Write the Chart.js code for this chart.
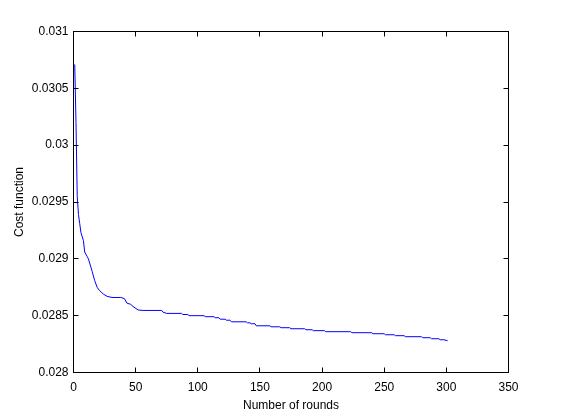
<!DOCTYPE html>
<html>
<head>
<meta charset="utf-8">
<script src="https://cdn.jsdelivr.net/npm/chart.js@4/dist/chart.umd.min.js"></script>
<style>
  html, body { margin: 0; padding: 0; background: #fff; }
  #wrap { width: 561px; height: 420px; }
</style>
</head>
<body>
<div id="wrap"><canvas id="myChart" width="561" height="420"></canvas></div>
<script>
// rounds / cost (breakpoints of the curve)
const rounds = [1, 2, 3, 4, 5, 6, 8, 9, 11, 12, 15, 17, 19, 21, 24, 27, 31, 38, 41, 43, 46, 48, 52, 56,
    71, 72, 75, 87, 88, 92, 93, 105, 106, 113, 114, 117, 118, 122, 123, 126, 127, 139, 140, 142, 143,
    146, 147, 158, 159, 166, 167, 174, 175, 186, 187, 192, 193, 202, 203, 223, 224, 240, 241, 250, 251,
    258, 259, 266, 267, 280, 281, 287, 288, 294, 295, 298, 301]
const cost = [0.03071, 0.03020, 0.02955, 0.02939, 0.02931, 0.02923, 0.02916, 0.02906, 0.02902, 0.02900,
    0.02889, 0.02881, 0.02875, 0.02872, 0.02869, 0.02867, 0.02866, 0.02866, 0.02865, 0.02861, 0.02860,
    0.02858, 0.02855, 0.028546, 0.028546, 0.028531, 0.02852, 0.02852, 0.02851, 0.02851, 0.02850, 0.02850,
    0.028491, 0.028491, 0.028482, 0.028482, 0.028469, 0.028469, 0.02846, 0.02846, 0.028446, 0.028446,
    0.028437, 0.028437, 0.028429, 0.028429, 0.028411, 0.028411, 0.028402, 0.028402, 0.028394, 0.028394,
    0.028385, 0.028385, 0.028376, 0.028376, 0.028368, 0.028368, 0.028359, 0.028359, 0.02835, 0.02835,
    0.028341, 0.028341, 0.028332, 0.028332, 0.028324, 0.028324, 0.028315, 0.028315, 0.028306, 0.028306,
    0.028297, 0.028297, 0.028288, 0.028288, 0.02828]

const xTicks = [0, 50, 100, 150, 200, 250, 300, 350]
const yTicks = [0.028, 0.0285, 0.029, 0.0295, 0.03, 0.0305, 0.031]
const xLabel = 'Number of rounds'
const yLabel = 'Cost function'

const fontFam = '"Liberation Sans", Arial, sans-serif'

// matlab style box + inward ticks on every side
const boxTicks = {
    id: 'boxTicks',
    afterDraw(chart) {
        const {ctx, chartArea: a, scales: {x, y}} = chart
        const tl = 5
        ctx.save()
        ctx.strokeStyle = '#000'
        ctx.lineWidth = 1
        ctx.beginPath()
        for (const v of xTicks) {
            const px = Math.round(x.getPixelForValue(v) - 0.5) + 0.5
            ctx.moveTo(px, a.bottom); ctx.lineTo(px, a.bottom - tl)
            ctx.moveTo(px, a.top); ctx.lineTo(px, a.top + tl)
        }
        for (const v of yTicks) {
            const py = Math.round(y.getPixelForValue(v) - 0.5) + 0.5
            ctx.moveTo(a.left, py); ctx.lineTo(a.left + tl, py)
            ctx.moveTo(a.right, py); ctx.lineTo(a.right - tl, py)
        }
        ctx.stroke()
        ctx.strokeRect(a.left, a.top, a.right - a.left, a.bottom - a.top)
        ctx.restore()
    }
}

const ctx = document.getElementById('myChart').getContext('2d')
const myChart = new Chart(ctx, {
    type: 'line',
    data: {
        datasets: [{
            data: rounds.map((r, i) => ({x: r, y: cost[i]})),
            borderColor: '#0000ff',
            borderWidth: 1,
            pointRadius: 0,
            tension: 0,
            fill: false
        }]
    },
    options: {
        responsive: false,
        animation: false,
        layout: {padding: {top: 31.5, right: 52.5, left: 0, bottom: 0}},
        plugins: {legend: {display: false}, tooltip: {enabled: false}},
        scales: {
            x: {
                type: 'linear',
                min: 0,
                max: 350,
                afterBuildTicks: s => { s.ticks = xTicks.map(v => ({value: v})) },
                afterFit: s => { s.height = 47.5 },
                grid: {display: false, drawTicks: false},
                border: {display: false},
                ticks: {
                    color: '#000',
                    padding: 8,
                    maxRotation: 0,
                    font: {family: fontFam, size: 12},
                    callback: v => String(v)
                },
                title: {
                    display: true,
                    text: xLabel,
                    color: '#000',
                    font: {family: fontFam, size: 12},
                    padding: {top: 0, bottom: 7}
                }
            },
            y: {
                type: 'linear',
                min: 0.028,
                max: 0.031,
                afterBuildTicks: s => { s.ticks = yTicks.map(v => ({value: v})) },
                afterFit: s => { s.width = 73.5 },
                grid: {display: false, drawTicks: false},
                border: {display: false},
                ticks: {
                    color: '#000',
                    padding: 5,
                    font: {family: fontFam, size: 12},
                    callback: v => String(Number(v.toFixed(4)))
                },
                title: {
                    display: true,
                    text: yLabel,
                    color: '#000',
                    font: {family: fontFam, size: 12},
                    padding: {top: 12, bottom: 0}
                }
            }
        }
    },
    plugins: [boxTicks]
})
</script>
</body>
</html>
